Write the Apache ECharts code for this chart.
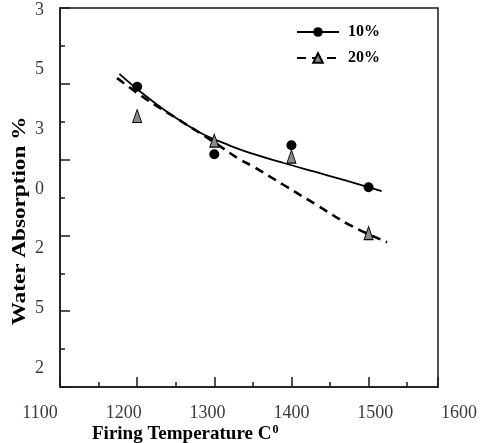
<!DOCTYPE html>
<html>
<head>
<meta charset="utf-8">
<style>
  html, body { margin: 0; padding: 0; background: #fff; }
  #chart { width: 480px; height: 443px; }
</style>
<script src="https://cdn.jsdelivr.net/npm/echarts@6.0.0/dist/echarts.min.js"></script>
</head>
<body>
<div id="chart"></div>
<script>
// Firing temperatures of the measured samples (°C)
const temps = [1200, 1300, 1400, 1500];
// Measured water absorption for each additive level
const absorption10 = [7.92, 6.14, 6.38, 5.27];
const absorption20 = [7.15, 6.50, 6.08, 4.06];
// Trend curves traced through each series
const trend10 = [[1177, 8.26], [1200, 7.86], [1240, 7.24], [1280, 6.73], [1320, 6.37],
                 [1346, 6.18], [1390, 5.91], [1430, 5.68], [1470, 5.45], [1517, 5.17]];
const trend20 = [[1174, 8.15], [1212, 7.59], [1251, 7.09], [1299, 6.47], [1331, 6.03],
                 [1351, 5.81], [1390, 5.33], [1433, 4.80], [1476, 4.27], [1524, 3.82]];
// Printed tick labels
const xTickLabels = ['1100', '1200', '1300', '1400', '1500', '1600'];
const yTickLabels = ['3', '5', '3', '0', '2', '5', '2'];
const seriesNames = ['10%', '20%'];

const serif = '"Liberation Serif", "Times New Roman", serif';
const ink = '#1a1a1a';
const labelGray = '#3a3a3a';

const tickStyle = { color: ink, width: 1.5 };

const chart = echarts.init(document.getElementById('chart'), null, { renderer: 'canvas' });

chart.setOption({
  animation: false,
  backgroundColor: '#fff',
  title: {
    text: '{a|Firing Temperature C}{b|0}',
    left: 92,
    top: 424,
    padding: 0,
    textStyle: {
      rich: {
        a: { fontFamily: serif, fontSize: 19, fontWeight: 'bold', color: '#000' },
        b: { fontFamily: serif, fontSize: 12, fontWeight: 'bold', color: '#000',
             verticalAlign: 'top', padding: [0, 0, 9, 1] }
      }
    }
  },
  graphic: [{
    type: 'text',
    x: 20,
    y: 221,
    rotation: Math.PI / 2,
    scaleX: 1.22,
    style: {
      text: 'Water Absorption %',
      font: 'bold 19px ' + serif,
      fill: '#000',
      textAlign: 'center',
      textVerticalAlign: 'middle'
    }
  }],
  legend: {
    data: seriesNames,
    orient: 'vertical',
    left: 296,
    top: 24,
    padding: 0,
    itemWidth: 42,
    itemHeight: 12,
    itemGap: 10,
    textStyle: { fontFamily: serif, fontSize: 16, fontWeight: 'bold', color: '#000', padding: [0, 0, 0, 4] }
  },
  grid: [
    // plotting area (boxed)
    { left: 60, top: 8, width: 378, height: 379, show: true, borderColor: ink, borderWidth: 1.5, containLabel: false },
    // x tick label strip
    { left: 40, top: 8, width: 423, height: 379, containLabel: false },
    // y tick label strip
    { left: 60, top: 10, width: 378, height: 358, containLabel: false }
  ],
  xAxis: [
    {
      type: 'value', gridIndex: 0, min: 1100, max: 1590, interval: 100,
      axisLine: { show: true, lineStyle: tickStyle },
      axisTick: { show: true, inside: true, length: 10, lineStyle: tickStyle },
      minorTick: { show: true, splitNumber: 2, length: 5, lineStyle: tickStyle },
      axisLabel: { show: false },
      splitLine: { show: false }
    },
    {
      type: 'category', gridIndex: 1, data: xTickLabels, boundaryGap: false,
      axisLine: { show: false }, axisTick: { show: false }, splitLine: { show: false },
      axisLabel: { show: true, interval: 0, margin: 17, fontFamily: serif, fontSize: 18, color: labelGray }
    },
    { type: 'value', gridIndex: 2, show: false }
  ],
  yAxis: [
    {
      type: 'value', gridIndex: 0, min: 0, max: 10, interval: 2,
      axisLine: { show: true, lineStyle: tickStyle },
      axisTick: { show: true, inside: true, length: 10, lineStyle: tickStyle },
      minorTick: { show: true, splitNumber: 2, length: 5, lineStyle: tickStyle },
      axisLabel: { show: false },
      splitLine: { show: false }
    },
    { type: 'value', gridIndex: 1, show: false },
    {
      type: 'category', gridIndex: 2, data: yTickLabels, inverse: true, boundaryGap: false,
      axisLine: { show: false }, axisTick: { show: false }, splitLine: { show: false },
      axisLabel: { show: true, interval: 0, margin: 16, fontFamily: serif, fontSize: 18, color: labelGray }
    }
  ],
  series: [
    {
      name: seriesNames[0],
      type: 'line',
      xAxisIndex: 0, yAxisIndex: 0,
      data: trend10,
      smooth: 0.4,
      symbol: 'circle',
      showSymbol: false,
      itemStyle: { color: '#000' },
      lineStyle: { color: '#000', width: 1.8 },
      z: 2
    },
    {
      name: seriesNames[1],
      type: 'line',
      xAxisIndex: 0, yAxisIndex: 0,
      data: trend20,
      smooth: 0.4,
      symbol: 'triangle',
      showSymbol: false,
      itemStyle: { color: '#8a8a8a', borderColor: '#000', borderWidth: 1 },
      lineStyle: { color: '#000', width: 2.6, type: [9, 6] },
      z: 2
    },
    {
      name: 'points 10',
      type: 'scatter',
      xAxisIndex: 0, yAxisIndex: 0,
      data: temps.map((t, i) => [t, absorption10[i]]),
      symbol: 'circle',
      symbolSize: 10,
      itemStyle: { color: '#000', opacity: 1 },
      z: 4
    },
    {
      name: 'points 20',
      type: 'scatter',
      xAxisIndex: 0, yAxisIndex: 0,
      data: temps.map((t, i) => [t, absorption20[i]]),
      symbol: 'triangle',
      symbolSize: [9, 13],
      itemStyle: { color: '#8a8a8a', borderColor: '#000', borderWidth: 1, opacity: 1 },
      z: 4
    }
  ]
});
</script>
</body>
</html>
